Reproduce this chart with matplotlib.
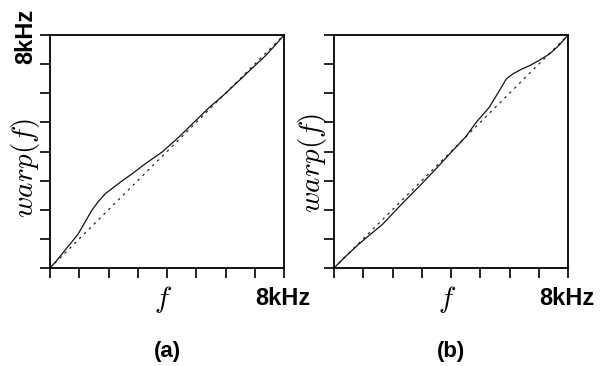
import matplotlib
matplotlib.use("Agg")
import matplotlib.pyplot as plt

plt.rcParams['mathtext.fontset'] = 'cm'

# Panel (a) warping curve (kHz)
f_a = [0.0, 0.25, 0.51, 0.75, 0.97, 1.2, 1.43, 1.65, 1.89, 2.11, 2.45, 2.8, 3.26, 3.83, 4.4, 4.9, 5.43, 5.95, 6.46, 6.9, 7.37, 7.7, 8.0]
w_a = [0.0, 0.28, 0.61, 0.9, 1.18, 1.58, 1.98, 2.28, 2.55, 2.72, 2.98, 3.23, 3.58, 3.98, 4.49, 4.98, 5.5, 5.95, 6.43, 6.85, 7.29, 7.65, 8.0]

# Panel (b) warping curve (kHz)
f_b = [0.0, 0.4, 0.86, 1.25, 1.66, 2.3, 2.91, 3.5, 4.06, 4.5, 4.86, 5.31, 5.6, 5.89, 6.11, 6.4, 6.69, 7.0, 7.37, 7.7, 8.0]
w_b = [0.0, 0.4, 0.83, 1.16, 1.5, 2.18, 2.8, 3.42, 4.03, 4.5, 5.0, 5.52, 6.0, 6.49, 6.66, 6.82, 6.95, 7.12, 7.35, 7.65, 8.0]

diag = [0.0, 8.0]
ticks = [0, 1, 2, 3, 4, 5, 6, 7, 8]

fig = plt.figure(figsize=(6.0, 3.66), dpi=100)
ax_a = fig.add_axes([50/600, 98/366, 234/600, 233/366])
ax_b = fig.add_axes([334/600, 98/366, 234/600, 233/366])

for ax, fx, wy, lab, wy_pos, wx_pos in [
    (ax_a, f_a, w_a, '(a)', 0.43, -0.105),
    (ax_b, f_b, w_b, '(b)', 0.45, -0.094),
]:
    ax.plot(diag, diag, color='#222222', lw=0.9, linestyle=(0, (2, 3.5)))
    ax.plot(fx, wy, color='#111111', lw=0.9)
    ax.set_xlim(0, 8)
    ax.set_ylim(0, 8)
    ax.set_xticks(ticks)
    ax.set_yticks(ticks)
    ax.set_xticklabels([])
    ax.set_yticklabels([])
    ax.tick_params(direction='out', length=7, width=1.2, color='black')
    for s in ax.spines.values():
        s.set_linewidth(1.3)
        s.set_color('black')
    ax.text(0.483, -0.137, r'$f$', transform=ax.transAxes, ha='center', va='center', fontsize=21)
    ax.text(0.995, -0.13, '8kHz', transform=ax.transAxes, ha='center', va='center',
            fontsize=17, fontweight='bold', family='Liberation Sans')
    ax.text(0.5, -0.36, lab, transform=ax.transAxes, ha='center', va='center',
            fontsize=16, fontweight='bold', family='Liberation Sans')
    ax.text(wx_pos, wy_pos, r'$warp(f)$', transform=ax.transAxes, ha='center', va='center',
            fontsize=21, rotation=90)

ax_a.text(-0.103, 0.996, '8kHz', transform=ax_a.transAxes, ha='center', va='center',
          fontsize=17, fontweight='bold', family='Liberation Sans', rotation=90)

fig.savefig('out.png', dpi=100)
